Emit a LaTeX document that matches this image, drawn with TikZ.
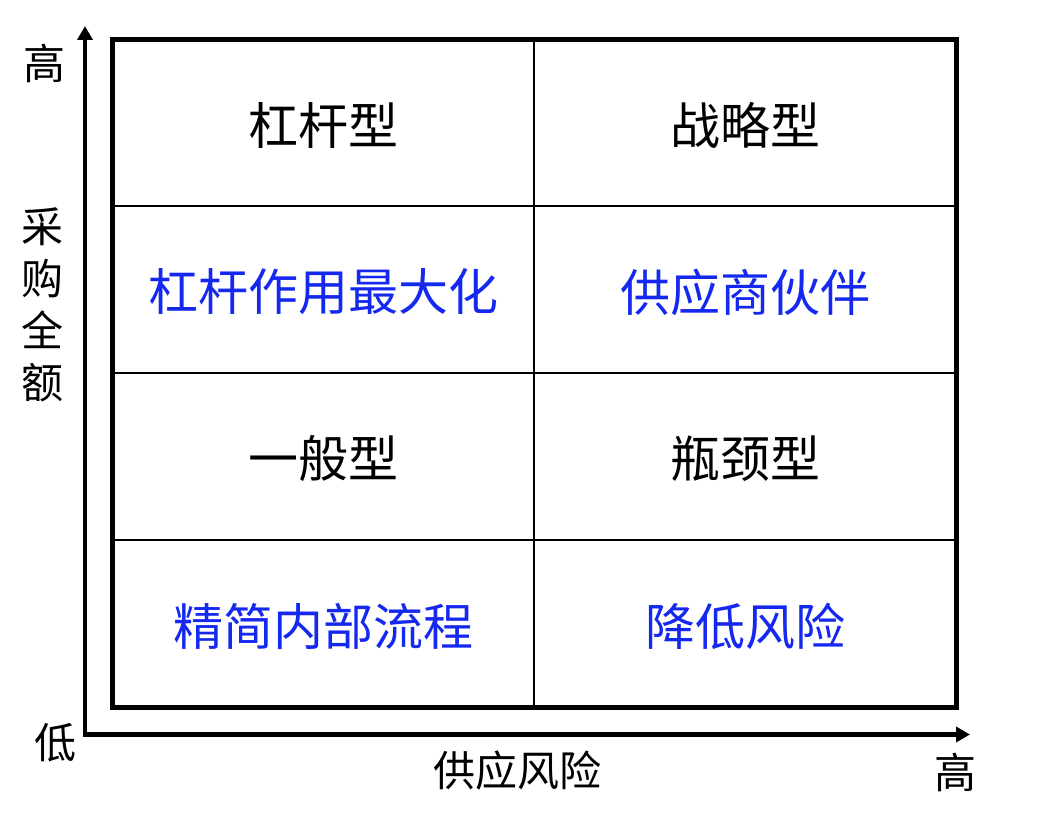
\documentclass[tikz,border=0pt]{standalone}
\usepackage{fontspec}
\newfontfamily\zh{Noto Sans CJK SC}
\usepackage{tikz}
\usetikzlibrary{arrows.meta}
\definecolor{planblue}{RGB}{20,40,240}

\begin{document}
\begin{tikzpicture}[
  x=0.5pt, y=-0.5pt,
  font=\zh,
  axis/.style={
    line width=2.25pt,
    line join=miter,
    {Triangle[length=7pt, width=7.5pt]}-{Triangle[length=7pt, width=7.5pt]}
  },
  frame/.style={line width=2.5pt},
  cell/.style={line width=1pt},
  kind/.style={font=\zh\fontsize{25}{30}\selectfont, text=black},
  plan/.style={font=\zh\fontsize{25}{30}\selectfont, text=planblue},
  tag/.style={font=\zh\fontsize{21}{26}\selectfont}
]

\useasboundingbox (0,0) rectangle (1038,822);

% Axes
\coordinate (origin) at (85,734.5);
\coordinate (ytip) at (85,26);
\coordinate (xtip) at (970,734.5);
\draw[axis] (ytip) -- (origin) -- (xtip);

% Grid
\draw[frame] (112.5,39.5) rectangle (956,707);
\draw[cell] (534,39.5) -- (534,707);
\foreach \y in {206,373,540} {
  \draw[cell] (112.5,\y) -- (956,\y);
}

% Quadrant types and their strategies
\node[kind] (lever) at (323,125) {杠杆型};
\node[kind] (strategic) at (745,125) {战略型};
\node[plan] (leverplan) at (323,292) {杠杆作用最大化};
\node[plan] (strategicplan) at (745,292) {供应商伙伴};
\node[kind] (routine) at (323,459) {一般型};
\node[kind] (bottleneck) at (745,459) {瓶颈型};
\node[plan] (routineplan) at (323,626) {精简内部流程};
\node[plan] (bottleneckplan) at (745,626) {降低风险};

% Axis labels
\node[tag] (yhigh) at (45,63) {高};
\node[tag] (ylow) at (55,743) {低};
\node[tag] (xhigh) at (955,772) {高};
\node[tag] (xname) at (517,771) {供应风险};
\node[tag, align=center] (yname) at (42,305) {采\\购\\全\\额};

\end{tikzpicture}
\end{document}
